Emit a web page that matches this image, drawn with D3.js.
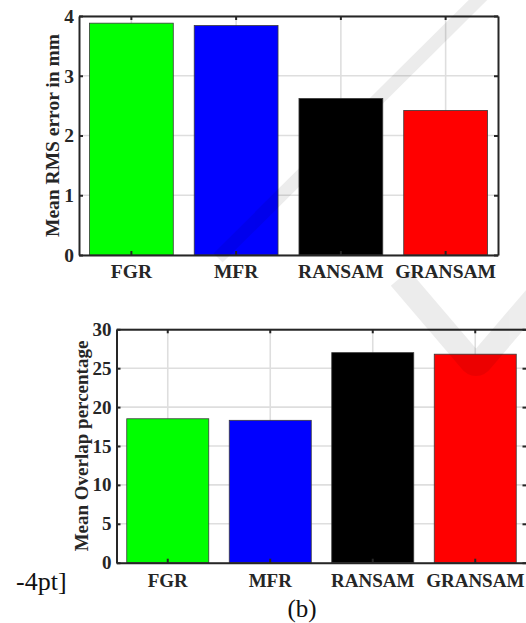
<!DOCTYPE html>
<html>
<head>
<meta charset="utf-8">
<script src="https://cdn.jsdelivr.net/npm/d3@7"></script>
<style>
  body { margin: 0; background: #fff; }
  svg { display: block; }
  .lbl { font-family: "Liberation Serif", "Times New Roman", serif; font-weight: bold; fill: #262626; }
  .plain { font-family: "Liberation Serif", "Times New Roman", serif; fill: #111; }
</style>
</head>
<body>
<script>
var methods = ["FGR", "MFR", "RANSAM", "GRANSAM"];
var barColors = ["#00ff00", "#0000ff", "#000000", "#ff0000"];
var rmsError = [3.88, 3.84, 2.62, 2.42];
var overlap = [18.5, 18.3, 27.0, 26.8];
var rmsTicks = [0, 1, 2, 3, 4];
var overlapTicks = [0, 5, 10, 15, 20, 25, 30];

const W = 526, H = 623;

var svg = d3.select("body").append("svg")
  .attr("width", W)
  .attr("height", H);

// faint publisher watermark shapes, drawn over the charts at the end
function watermark() {
  var wm = svg.append("g").attr("opacity", 0.07);
  wm.append("path")
    .attr("d", "M218,258 L483,-5")
    .attr("fill", "none")
    .attr("stroke", "#000")
    .attr("stroke-width", 13);
  wm.append("path")
    .attr("d", "M400,278 L470,360 Q476,368 482,360 L535,298")
    .attr("fill", "none")
    .attr("stroke", "#000")
    .attr("stroke-width", 24);
}

// one MATLAB-like bar panel
function panel(opt) {
  var x = d3.scaleBand()
    .domain(methods)
    .range([opt.left, opt.right])
    .paddingInner(0.2)
    .paddingOuter(0.1);
  var y = d3.scaleLinear()
    .domain([0, opt.ymax])
    .range([opt.bottom, opt.top]);

  var g = svg.append("g");

  // grid
  g.append("g")
    .selectAll("line")
    .data(methods)
    .enter().append("line")
    .attr("x1", function (d) { return x(d) + x.bandwidth() / 2; })
    .attr("x2", function (d) { return x(d) + x.bandwidth() / 2; })
    .attr("y1", opt.top)
    .attr("y2", opt.bottom)
    .attr("stroke", "#dedede")
    .attr("stroke-width", 1.6);
  g.append("g")
    .selectAll("line")
    .data(opt.ticks)
    .enter().append("line")
    .attr("x1", opt.left)
    .attr("x2", opt.right)
    .attr("y1", function (d) { return y(d); })
    .attr("y2", function (d) { return y(d); })
    .attr("stroke", "#dedede")
    .attr("stroke-width", 1.6);

  // bars
  g.append("g")
    .selectAll("rect")
    .data(opt.values)
    .enter().append("rect")
    .attr("x", function (d, i) { return x(methods[i]); })
    .attr("width", x.bandwidth())
    .attr("y", function (d) { return y(d); })
    .attr("height", function (d) { return y(0) - y(d); })
    .attr("fill", function (d, i) { return barColors[i]; })
    .attr("stroke", "#3a3a3a")
    .attr("stroke-width", 0.8);

  // axes, ticks pointing inward
  var ax = g.append("g").attr("transform", "translate(0," + opt.bottom + ")")
    .call(d3.axisBottom(x).tickSize(-4).tickSizeOuter(0).tickPadding(opt.xpad));
  var ay = g.append("g").attr("transform", "translate(" + opt.left + ",0)")
    .call(d3.axisLeft(y).tickValues(opt.ticks).tickFormat(d3.format("d"))
      .tickSize(-4).tickSizeOuter(0).tickPadding(5));
  var at = g.append("g").attr("transform", "translate(0," + opt.top + ")")
    .call(d3.axisTop(x).tickSize(-4).tickSizeOuter(0).tickFormat(""));
  var ar = g.append("g").attr("transform", "translate(" + opt.right + ",0)")
    .call(d3.axisRight(y).tickValues(opt.ticks).tickSize(-4).tickSizeOuter(0).tickFormat(""));

  [ax, ay, at, ar].forEach(function (a) {
    a.select(".domain").attr("stroke", "#262626").attr("stroke-width", 2);
    a.selectAll(".tick line").attr("stroke", "#262626").attr("stroke-width", 2);
    a.selectAll(".tick text")
      .attr("class", "lbl")
      .attr("font-size", opt.fs)
      .attr("fill", "#262626");
  });
  at.selectAll(".tick text").remove();
  ar.selectAll(".tick text").remove();

  g.append("text")
    .attr("class", "lbl")
    .attr("font-size", opt.fs)
    .attr("text-anchor", "middle")
    .attr("transform", "translate(" + opt.labelX + "," + (opt.top + opt.bottom) / 2 + ") rotate(-90)")
    .text(opt.label);
}

panel({
  left: 79, right: 498, top: 16, bottom: 255,
  ymax: 4, ticks: rmsTicks, values: rmsError,
  fs: 19.5, xpad: 9.5, labelX: 59,
  label: "Mean RMS error in mm"
});

panel({
  left: 116.5, right: 526.5, top: 329.3, bottom: 562.7,
  ymax: 30, ticks: overlapTicks, values: overlap,
  fs: 19, xpad: 10.5, labelX: 88,
  label: "Mean Overlap percentage"
});

svg.append("text").attr("class", "plain")
  .attr("x", 16).attr("y", 590)
  .attr("font-size", 26)
  .text("-4pt]");

svg.append("text").attr("class", "plain")
  .attr("x", 302).attr("y", 617)
  .attr("font-size", 25)
  .attr("text-anchor", "middle")
  .text("(b)");

watermark();
</script>
</body>
</html>
